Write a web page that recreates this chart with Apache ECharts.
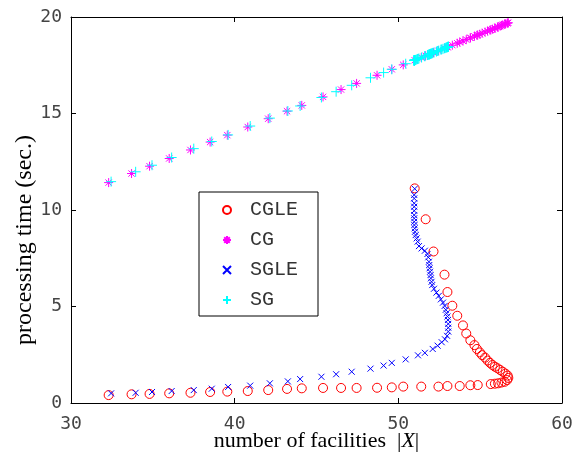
<!DOCTYPE html>
<html>
<head>
<meta charset="utf-8" />
<script src="https://cdn.jsdelivr.net/npm/echarts@6/dist/echarts.min.js"></script>
<style>
  html, body { margin: 0; padding: 0; background: #fff; }
  #chart { width: 573px; height: 454px; }
</style>
</head>
<body>
<div id="chart"></div>
<script>
// number of facilities for the CG runs (shared by CGLE and CG)
const cgX = [32.3, 33.7, 34.8, 36.0, 37.3, 38.5, 39.55, 40.8, 42.05, 43.2,
  44.1, 45.4, 46.5, 47.45, 48.7, 49.6, 50.3, 51.4, 52.45, 53.0,
  53.75, 54.4, 54.85, 55.65, 55.9, 56.1, 56.3, 56.5, 56.65, 56.72,
  56.68, 56.55, 56.38, 56.22, 56.06, 55.9, 55.75, 55.6, 55.45, 55.3,
  55.12, 54.98, 54.8, 54.65, 54.4, 54.15, 53.95, 53.6, 53.3, 53.0,
  52.82, 52.15, 51.67, 51.0];
const cgleY = [0.41, 0.45, 0.47, 0.50, 0.53, 0.57, 0.59, 0.62, 0.67, 0.73,
  0.76, 0.78, 0.78, 0.78, 0.79, 0.81, 0.85, 0.85, 0.85, 0.88,
  0.88, 0.92, 0.93, 0.98, 1.0, 1.02, 1.06, 1.1, 1.19, 1.3,
  1.42, 1.52, 1.62, 1.71, 1.80, 1.88, 1.97, 2.08, 2.2, 2.35,
  2.48, 2.62, 2.8, 3.0, 3.25, 3.6, 4.02, 4.52, 5.04, 5.75,
  6.65, 7.85, 9.52, 11.12];
const cgY = [11.42, 11.89, 12.27, 12.67, 13.11, 13.52, 13.88, 14.30, 14.73, 15.12,
  15.42, 15.86, 16.24, 16.56, 16.98, 17.29, 17.52, 17.90, 18.25, 18.44,
  18.70, 18.92, 19.07, 19.34, 19.42, 19.49, 19.56, 19.63, 19.68, 19.70,
  19.69, 19.64, 19.59, 19.53, 19.48, 19.42, 19.37, 19.32, 19.27, 19.22,
  19.16, 19.11, 19.05, 19.00, 18.92, 18.83, 18.76, 18.64, 18.54, 18.44,
  18.38, 18.15, 17.99, 17.76];

// number of facilities for the SG runs (shared by SGLE and SG)
const sgX = [32.45, 33.95, 34.95, 36.15, 37.5, 38.6, 39.6, 40.95, 42.15, 43.25,
  44.0, 45.3, 46.2, 47.15, 48.3, 49.1, 49.6, 50.45, 51.2, 51.62,
  52.1, 52.4, 52.65, 52.85, 52.98, 53.05, 53.05, 53.05, 53.03, 53.0,
  52.95, 52.9, 52.83, 52.73, 52.6, 52.47, 52.33, 52.18, 52.07, 52.03,
  51.99, 51.97, 51.94, 51.91, 51.89, 51.87, 51.83, 51.78, 51.62, 51.42,
  51.26, 51.18, 51.12, 51.06, 51.02, 51.0, 50.98, 50.97, 50.97, 50.97,
  50.97, 50.97, 50.97, 50.97, 50.97, 51.0];
const sgleY = [0.50, 0.53, 0.57, 0.62, 0.67, 0.74, 0.83, 0.90, 1.02, 1.12,
  1.24, 1.36, 1.49, 1.62, 1.78, 1.94, 2.08, 2.26, 2.47, 2.6,
  2.8, 2.97, 3.15, 3.3, 3.48, 3.7, 3.9, 4.1, 4.3, 4.48,
  4.65, 4.83, 5.03, 5.2, 5.37, 5.55, 5.72, 5.92, 6.11, 6.28,
  6.46, 6.63, 6.8, 6.98, 7.15, 7.32, 7.55, 7.72, 7.89, 8.01,
  8.13, 8.36, 8.53, 8.7, 8.87, 9.05, 9.22, 9.39, 9.57, 9.74,
  9.96, 10.17, 10.35, 10.6, 10.78, 11.1];
const sgY = [11.47, 11.98, 12.32, 12.72, 13.18, 13.55, 13.89, 14.35, 14.76, 15.13,
  15.39, 15.83, 16.13, 16.46, 16.85, 17.12, 17.29, 17.58, 17.83, 17.97,
  18.14, 18.24, 18.32, 18.39, 18.43, 18.46, 18.46, 18.46, 18.45, 18.44,
  18.42, 18.41, 18.38, 18.35, 18.31, 18.26, 18.21, 18.16, 18.12, 18.11,
  18.10, 18.09, 18.08, 18.07, 18.06, 18.06, 18.04, 18.03, 17.97, 17.90,
  17.85, 17.82, 17.80, 17.78, 17.77, 17.76, 17.75, 17.75, 17.75, 17.75,
  17.75, 17.75, 17.75, 17.75, 17.75, 17.76];

const seriesNames = ["CGLE", "CG", "SGLE", "SG"];
const xTicks = { min: 30, max: 60, interval: 10 };
const yTicks = { min: 0, max: 20, interval: 5 };

// matlab-like markers drawn as strokes
const SYM_STAR = "path://M5,0V10M0,5H10M1.5,1.5L8.5,8.5M8.5,1.5L1.5,8.5";
const SYM_X = "path://M0,0L10,10M10,0L0,10";
const SYM_PLUS = "path://M5,0V10M0,5H10";

const zip = (xs, ys) => xs.map((x, i) => [x, ys[i]]);

const tickFont = { fontFamily: "DejaVu Sans Mono", fontSize: 18, color: "#444" };
const frameLine = { show: true, onZero: false, lineStyle: { color: "#000", width: 1 } };
const frameTick = { show: true, inside: true, length: 5, lineStyle: { color: "#000" } };

const markerSeries = (name, data, symbol, size, color) => ({
  name,
  type: "scatter",
  data,
  symbol,
  symbolSize: size,
  itemStyle: { color: "rgba(0,0,0,0)", borderColor: color, borderWidth: 1, opacity: 1 },
  emphasis: { disabled: true },
});

const option = {
  animation: false,
  backgroundColor: "#fff",
  // fixed plot box, labels may sit outside it
  grid: { left: 71, right: 11, top: 17, bottom: 51, containLabel: false, outerBoundsMode: "none" },
  legend: {
    orient: "vertical",
    left: 199,
    top: 192,
    padding: [8, 20, 6, 23],
    itemGap: 10,
    itemWidth: 8,
    itemHeight: 8,
    backgroundColor: "#fff",
    borderColor: "#000",
    borderWidth: 1,
    borderRadius: 0,
    selectedMode: false,
    data: seriesNames,
    textStyle: {
      fontFamily: "Liberation Mono",
      fontSize: 20,
      lineHeight: 20,
      color: "#333",
      padding: [0, 0, 0, 14],
    },
  },
  xAxis: [
    {
      type: "value",
      position: "bottom",
      ...xTicks,
      axisLine: frameLine,
      axisTick: frameTick,
      splitLine: { show: false },
      axisLabel: { ...tickFont, margin: 12 },
      name: "number of facilities  |{i|X}|",
      nameLocation: "middle",
      nameGap: 27,
      nameMoveOverlap: false,
      nameTextStyle: {
        fontFamily: "Liberation Serif",
        fontSize: 22,
        color: "#000",
        rich: { i: { fontFamily: "Liberation Serif", fontSize: 22, fontStyle: "italic", color: "#000" } },
      },
    },
    {
      type: "value",
      position: "top",
      ...xTicks,
      axisLine: frameLine,
      axisTick: frameTick,
      splitLine: { show: false },
      axisLabel: { show: false },
    },
  ],
  yAxis: [
    {
      type: "value",
      position: "left",
      ...yTicks,
      axisLine: frameLine,
      axisTick: frameTick,
      splitLine: { show: false },
      axisLabel: { ...tickFont, margin: 9 },
    },
    {
      type: "value",
      position: "right",
      ...yTicks,
      axisLine: frameLine,
      axisTick: frameTick,
      splitLine: { show: false },
      axisLabel: { show: false },
    },
  ],
  // y title sits a bit below the middle of the axis in the original
  graphic: [
    {
      type: "text",
      x: 25,
      y: 240,
      rotation: Math.PI / 2,
      style: {
        text: "processing time (sec.)",
        fontFamily: "Liberation Serif",
        fontSize: 24,
        fill: "#000",
        align: "center",
        verticalAlign: "middle",
      },
    },
  ],
  series: [
    markerSeries(seriesNames[0], zip(cgX, cgleY), "circle", 9, "#ff0000"),
    markerSeries(seriesNames[1], zip(cgX, cgY), SYM_STAR, 9, "#ff00ff"),
    markerSeries(seriesNames[2], zip(sgX, sgleY), SYM_X, 6, "#0000ff"),
    markerSeries(seriesNames[3], zip(sgX, sgY), SYM_PLUS, 10, "#00ffff"),
  ],
};

const chart = echarts.init(document.getElementById("chart"), null, { renderer: "canvas" });
chart.setOption(option);
</script>
</body>
</html>
